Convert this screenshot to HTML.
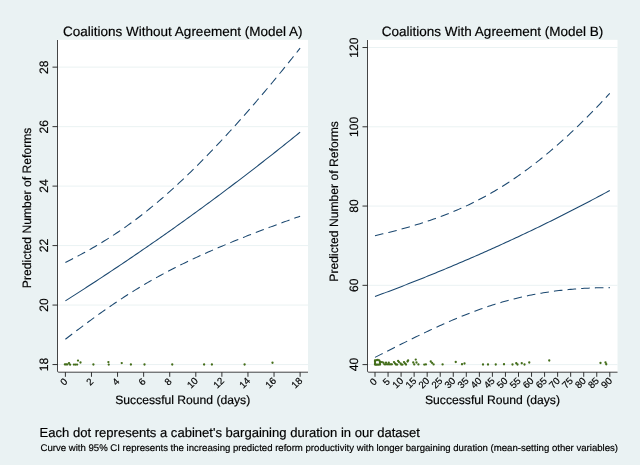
<!DOCTYPE html>
<html><head><meta charset="utf-8"><title>Predicted Number of Reforms</title>
<style>
html,body{margin:0;padding:0;background:#eaf2f3;}
body{width:640px;height:465px;overflow:hidden;}
svg{display:block;will-change:transform;font-family:"Liberation Sans",sans-serif;}
text{fill:#000;stroke:#000;stroke-width:0.18px;text-rendering:geometricPrecision;}
</style></head><body>
<svg width="640" height="465" viewBox="0 0 640 465">
<rect x="0" y="0" width="640" height="465" fill="#eaf2f3"/>
<rect x="57.5" y="39.85" width="250.5" height="332.15" fill="#fff"/>
<line x1="57.5" x2="308.0" y1="364.55" y2="364.55" stroke="#e8f0f2" stroke-width="0.9"/>
<line x1="57.5" x2="308.0" y1="305.07" y2="305.07" stroke="#e8f0f2" stroke-width="0.9"/>
<line x1="57.5" x2="308.0" y1="245.59" y2="245.59" stroke="#e8f0f2" stroke-width="0.9"/>
<line x1="57.5" x2="308.0" y1="186.11" y2="186.11" stroke="#e8f0f2" stroke-width="0.9"/>
<line x1="57.5" x2="308.0" y1="126.63" y2="126.63" stroke="#e8f0f2" stroke-width="0.9"/>
<line x1="57.5" x2="308.0" y1="67.15" y2="67.15" stroke="#e8f0f2" stroke-width="0.9"/>
<path d="M65.40,300.83 L67.36,299.60 L69.31,298.35 L71.27,297.11 L73.22,295.86 L75.18,294.61 L77.14,293.36 L79.09,292.10 L81.05,290.84 L83.00,289.58 L84.96,288.32 L86.92,287.06 L88.87,285.79 L90.83,284.52 L92.78,283.24 L94.74,281.97 L96.70,280.69 L98.65,279.41 L100.61,278.12 L102.56,276.84 L104.52,275.55 L106.48,274.25 L108.43,272.96 L110.39,271.66 L112.34,270.36 L114.30,269.06 L116.26,267.75 L118.21,266.45 L120.17,265.13 L122.12,263.82 L124.08,262.50 L126.04,261.19 L127.99,259.86 L129.95,258.54 L131.90,257.21 L133.86,255.88 L135.82,254.55 L137.77,253.21 L139.73,251.88 L141.68,250.53 L143.64,249.19 L145.60,247.84 L147.55,246.49 L149.51,245.14 L151.46,243.79 L153.42,242.43 L155.38,241.07 L157.33,239.71 L159.29,238.34 L161.24,236.97 L163.20,235.60 L165.16,234.22 L167.11,232.85 L169.07,231.47 L171.02,230.08 L172.98,228.70 L174.94,227.31 L176.89,225.92 L178.85,224.52 L180.80,223.12 L182.76,221.72 L184.72,220.32 L186.67,218.91 L188.63,217.50 L190.58,216.09 L192.54,214.68 L194.50,213.26 L196.45,211.84 L198.41,210.41 L200.36,208.99 L202.32,207.56 L204.28,206.12 L206.23,204.69 L208.19,203.25 L210.14,201.81 L212.10,200.36 L214.06,198.92 L216.01,197.46 L217.97,196.01 L219.92,194.55 L221.88,193.09 L223.84,191.63 L225.79,190.17 L227.75,188.70 L229.70,187.23 L231.66,185.75 L233.62,184.27 L235.57,182.79 L237.53,181.31 L239.48,179.82 L241.44,178.33 L243.40,176.84 L245.35,175.34 L247.31,173.84 L249.26,172.34 L251.22,170.83 L253.18,169.32 L255.13,167.81 L257.09,166.30 L259.04,164.78 L261.00,163.26 L262.96,161.73 L264.91,160.21 L266.87,158.68 L268.82,157.14 L270.78,155.60 L272.74,154.06 L274.69,152.52 L276.65,150.97 L278.60,149.42 L280.56,147.87 L282.52,146.32 L284.47,144.76 L286.43,143.19 L288.38,141.63 L290.34,140.06 L292.30,138.49 L294.25,136.91 L296.21,135.33 L298.16,133.75 L300.12,132.16" fill="none" stroke="#1a476f" stroke-width="1.05"/>
<path d="M65.40,262.46 L67.36,261.48 L69.31,260.49 L71.27,259.49 L73.22,258.49 L75.18,257.47 L77.14,256.44 L79.09,255.41 L81.05,254.36 L83.00,253.30 L84.96,252.22 L86.92,251.14 L88.87,250.05 L90.83,248.94 L92.78,247.82 L94.74,246.68 L96.70,245.54 L98.65,244.38 L100.61,243.20 L102.56,242.01 L104.52,240.81 L106.48,239.59 L108.43,238.36 L110.39,237.11 L112.34,235.85 L114.30,234.57 L116.26,233.28 L118.21,231.97 L120.17,230.65 L122.12,229.31 L124.08,227.95 L126.04,226.57 L127.99,225.18 L129.95,223.78 L131.90,222.35 L133.86,220.91 L135.82,219.46 L137.77,217.98 L139.73,216.49 L141.68,214.98 L143.64,213.46 L145.60,211.92 L147.55,210.36 L149.51,208.78 L151.46,207.19 L153.42,205.58 L155.38,203.96 L157.33,202.32 L159.29,200.66 L161.24,198.99 L163.20,197.30 L165.16,195.60 L167.11,193.87 L169.07,192.14 L171.02,190.39 L172.98,188.62 L174.94,186.84 L176.89,185.04 L178.85,183.23 L180.80,181.40 L182.76,179.56 L184.72,177.71 L186.67,175.84 L188.63,173.96 L190.58,172.06 L192.54,170.15 L194.50,168.23 L196.45,166.29 L198.41,164.35 L200.36,162.38 L202.32,160.41 L204.28,158.42 L206.23,156.42 L208.19,154.41 L210.14,152.39 L212.10,150.35 L214.06,148.31 L216.01,146.25 L217.97,144.18 L219.92,142.10 L221.88,140.00 L223.84,137.90 L225.79,135.78 L227.75,133.66 L229.70,131.52 L231.66,129.37 L233.62,127.22 L235.57,125.05 L237.53,122.87 L239.48,120.68 L241.44,118.48 L243.40,116.27 L245.35,114.05 L247.31,111.82 L249.26,109.59 L251.22,107.34 L253.18,105.08 L255.13,102.81 L257.09,100.53 L259.04,98.25 L261.00,95.95 L262.96,93.64 L264.91,91.33 L266.87,89.00 L268.82,86.67 L270.78,84.33 L272.74,81.98 L274.69,79.61 L276.65,77.24 L278.60,74.87 L280.56,72.48 L282.52,70.08 L284.47,67.68 L286.43,65.26 L288.38,62.84 L290.34,60.41 L292.30,57.97 L294.25,55.52 L296.21,53.06 L298.16,50.59 L300.12,48.12" fill="none" stroke="#1a476f" stroke-width="1.05" stroke-dasharray="8.6 5.1"/>
<path d="M65.40,339.21 L67.36,337.71 L69.31,336.21 L71.27,334.72 L73.22,333.23 L75.18,331.75 L77.14,330.27 L79.09,328.80 L81.05,327.33 L83.00,325.87 L84.96,324.42 L86.92,322.97 L88.87,321.53 L90.83,320.10 L92.78,318.67 L94.74,317.25 L96.70,315.84 L98.65,314.44 L100.61,313.04 L102.56,311.66 L104.52,310.28 L106.48,308.92 L108.43,307.56 L110.39,306.21 L112.34,304.87 L114.30,303.54 L116.26,302.23 L118.21,300.92 L120.17,299.62 L122.12,298.34 L124.08,297.06 L126.04,295.80 L127.99,294.54 L129.95,293.30 L131.90,292.07 L133.86,290.85 L135.82,289.64 L137.77,288.45 L139.73,287.26 L141.68,286.09 L143.64,284.92 L145.60,283.77 L147.55,282.63 L149.51,281.50 L151.46,280.38 L153.42,279.27 L155.38,278.18 L157.33,277.09 L159.29,276.02 L161.24,274.95 L163.20,273.90 L165.16,272.85 L167.11,271.82 L169.07,270.79 L171.02,269.78 L172.98,268.77 L174.94,267.78 L176.89,266.79 L178.85,265.81 L180.80,264.84 L182.76,263.88 L184.72,262.93 L186.67,261.98 L188.63,261.05 L190.58,260.12 L192.54,259.20 L194.50,258.29 L196.45,257.38 L198.41,256.48 L200.36,255.59 L202.32,254.70 L204.28,253.82 L206.23,252.95 L208.19,252.09 L210.14,251.23 L212.10,250.37 L214.06,249.52 L216.01,248.68 L217.97,247.84 L219.92,247.01 L221.88,246.19 L223.84,245.36 L225.79,244.55 L227.75,243.74 L229.70,242.93 L231.66,242.13 L233.62,241.33 L235.57,240.54 L237.53,239.75 L239.48,238.96 L241.44,238.18 L243.40,237.40 L245.35,236.63 L247.31,235.86 L249.26,235.09 L251.22,234.33 L253.18,233.57 L255.13,232.82 L257.09,232.06 L259.04,231.31 L261.00,230.57 L262.96,229.82 L264.91,229.08 L266.87,228.35 L268.82,227.61 L270.78,226.88 L272.74,226.15 L274.69,225.43 L276.65,224.70 L278.60,223.98 L280.56,223.27 L282.52,222.55 L284.47,221.84 L286.43,221.13 L288.38,220.42 L290.34,219.71 L292.30,219.01 L294.25,218.30 L296.21,217.60 L298.16,216.91 L300.12,216.21" fill="none" stroke="#1a476f" stroke-width="1.05" stroke-dasharray="8.6 5.1"/>
<circle cx="64.9" cy="364.4" r="1.15" fill="#436d1a"/>
<circle cx="66.1" cy="364.4" r="1.15" fill="#436d1a"/>
<circle cx="67.4" cy="364.4" r="1.15" fill="#436d1a"/>
<circle cx="69" cy="363.1" r="1.15" fill="#436d1a"/>
<circle cx="70.1" cy="364.7" r="1.15" fill="#436d1a"/>
<circle cx="73.9" cy="364.6" r="1.15" fill="#436d1a"/>
<circle cx="75.5" cy="364.6" r="1.15" fill="#436d1a"/>
<circle cx="77.1" cy="364.6" r="1.15" fill="#436d1a"/>
<circle cx="78" cy="360.6" r="1.15" fill="#436d1a"/>
<circle cx="80.5" cy="362.5" r="1.15" fill="#436d1a"/>
<circle cx="93.4" cy="364.5" r="1.15" fill="#436d1a"/>
<circle cx="108.4" cy="362.1" r="1.15" fill="#436d1a"/>
<circle cx="108.75" cy="364.6" r="1.15" fill="#436d1a"/>
<circle cx="121.75" cy="363.1" r="1.15" fill="#436d1a"/>
<circle cx="130.9" cy="364.5" r="1.15" fill="#436d1a"/>
<circle cx="144.5" cy="364.5" r="1.15" fill="#436d1a"/>
<circle cx="172.25" cy="364.5" r="1.15" fill="#436d1a"/>
<circle cx="204.1" cy="364.5" r="1.15" fill="#436d1a"/>
<circle cx="211.9" cy="364.5" r="1.15" fill="#436d1a"/>
<circle cx="244.6" cy="364.5" r="1.15" fill="#436d1a"/>
<circle cx="272.5" cy="362.75" r="1.15" fill="#436d1a"/>
<path d="M57.5,40.0 V371.0 Q57.5,372.2 58.7,372.2 H308.0" fill="none" stroke="#1c1c1c" stroke-width="0.82"/>
<line x1="52.5" x2="57.5" y1="364.55" y2="364.55" stroke="#1c1c1c" stroke-width="0.9"/>
<text transform="translate(47.90,364.55) rotate(-90)" text-anchor="middle" font-size="12.15">18</text>
<line x1="52.5" x2="57.5" y1="305.07" y2="305.07" stroke="#1c1c1c" stroke-width="0.9"/>
<text transform="translate(47.90,305.07) rotate(-90)" text-anchor="middle" font-size="12.15">20</text>
<line x1="52.5" x2="57.5" y1="245.59" y2="245.59" stroke="#1c1c1c" stroke-width="0.9"/>
<text transform="translate(47.90,245.59) rotate(-90)" text-anchor="middle" font-size="12.15">22</text>
<line x1="52.5" x2="57.5" y1="186.11" y2="186.11" stroke="#1c1c1c" stroke-width="0.9"/>
<text transform="translate(47.90,186.11) rotate(-90)" text-anchor="middle" font-size="12.15">24</text>
<line x1="52.5" x2="57.5" y1="126.63" y2="126.63" stroke="#1c1c1c" stroke-width="0.9"/>
<text transform="translate(47.90,126.63) rotate(-90)" text-anchor="middle" font-size="12.15">26</text>
<line x1="52.5" x2="57.5" y1="67.15" y2="67.15" stroke="#1c1c1c" stroke-width="0.9"/>
<text transform="translate(47.90,67.15) rotate(-90)" text-anchor="middle" font-size="12.15">28</text>
<line x1="65.40" x2="65.40" y1="372.2" y2="376.8" stroke="#1c1c1c" stroke-width="0.9"/>
<text transform="translate(63.60,381.60) rotate(-45)" text-anchor="middle" dy="0.36em" font-size="9.72">0</text>
<line x1="91.48" x2="91.48" y1="372.2" y2="376.8" stroke="#1c1c1c" stroke-width="0.9"/>
<text transform="translate(89.68,381.60) rotate(-45)" text-anchor="middle" dy="0.36em" font-size="9.72">2</text>
<line x1="117.56" x2="117.56" y1="372.2" y2="376.8" stroke="#1c1c1c" stroke-width="0.9"/>
<text transform="translate(115.76,381.60) rotate(-45)" text-anchor="middle" dy="0.36em" font-size="9.72">4</text>
<line x1="143.64" x2="143.64" y1="372.2" y2="376.8" stroke="#1c1c1c" stroke-width="0.9"/>
<text transform="translate(141.84,381.60) rotate(-45)" text-anchor="middle" dy="0.36em" font-size="9.72">6</text>
<line x1="169.72" x2="169.72" y1="372.2" y2="376.8" stroke="#1c1c1c" stroke-width="0.9"/>
<text transform="translate(167.92,381.60) rotate(-45)" text-anchor="middle" dy="0.36em" font-size="9.72">8</text>
<line x1="195.80" x2="195.80" y1="372.2" y2="376.8" stroke="#1c1c1c" stroke-width="0.9"/>
<text transform="translate(192.40,382.70) rotate(-45)" text-anchor="middle" dy="0.36em" font-size="9.72">10</text>
<line x1="221.88" x2="221.88" y1="372.2" y2="376.8" stroke="#1c1c1c" stroke-width="0.9"/>
<text transform="translate(218.48,382.70) rotate(-45)" text-anchor="middle" dy="0.36em" font-size="9.72">12</text>
<line x1="247.96" x2="247.96" y1="372.2" y2="376.8" stroke="#1c1c1c" stroke-width="0.9"/>
<text transform="translate(244.56,382.70) rotate(-45)" text-anchor="middle" dy="0.36em" font-size="9.72">14</text>
<line x1="274.04" x2="274.04" y1="372.2" y2="376.8" stroke="#1c1c1c" stroke-width="0.9"/>
<text transform="translate(270.64,382.70) rotate(-45)" text-anchor="middle" dy="0.36em" font-size="9.72">16</text>
<line x1="300.12" x2="300.12" y1="372.2" y2="376.8" stroke="#1c1c1c" stroke-width="0.9"/>
<text transform="translate(296.72,382.70) rotate(-45)" text-anchor="middle" dy="0.36em" font-size="9.72">18</text>
<text x="182.75" y="35.6" text-anchor="middle" font-size="13.5">Coalitions Without Agreement (Model A)</text>
<text x="182.75" y="403.5" text-anchor="middle" font-size="12.15">Successful Round (days)</text>
<text transform="translate(31.1,207.9) rotate(-90)" text-anchor="middle" font-size="12.15">Predicted Number of Reforms</text>
<rect x="367.5" y="39.85" width="250.0" height="332.15" fill="#fff"/>
<line x1="367.5" x2="617.5" y1="364.60" y2="364.60" stroke="#e8f0f2" stroke-width="0.9"/>
<line x1="367.5" x2="617.5" y1="285.33" y2="285.33" stroke="#e8f0f2" stroke-width="0.9"/>
<line x1="367.5" x2="617.5" y1="206.06" y2="206.06" stroke="#e8f0f2" stroke-width="0.9"/>
<line x1="367.5" x2="617.5" y1="126.79" y2="126.79" stroke="#e8f0f2" stroke-width="0.9"/>
<line x1="367.5" x2="617.5" y1="47.52" y2="47.52" stroke="#e8f0f2" stroke-width="0.9"/>
<path d="M375.00,296.53 L376.96,295.80 L378.91,295.07 L380.87,294.34 L382.83,293.61 L384.78,292.87 L386.74,292.13 L388.70,291.39 L390.65,290.65 L392.61,289.91 L394.57,289.16 L396.52,288.41 L398.48,287.66 L400.44,286.90 L402.39,286.14 L404.35,285.38 L406.31,284.62 L408.26,283.86 L410.22,283.09 L412.18,282.32 L414.13,281.55 L416.09,280.78 L418.05,280.00 L420.01,279.22 L421.96,278.44 L423.92,277.65 L425.88,276.87 L427.83,276.08 L429.79,275.29 L431.75,274.49 L433.70,273.70 L435.66,272.90 L437.62,272.09 L439.57,271.29 L441.53,270.48 L443.49,269.67 L445.44,268.86 L447.40,268.05 L449.36,267.23 L451.31,266.41 L453.27,265.59 L455.23,264.76 L457.18,263.93 L459.14,263.10 L461.10,262.27 L463.05,261.43 L465.01,260.59 L466.97,259.75 L468.92,258.91 L470.88,258.06 L472.84,257.21 L474.79,256.36 L476.75,255.50 L478.71,254.65 L480.66,253.79 L482.62,252.92 L484.58,252.06 L486.53,251.19 L488.49,250.32 L490.45,249.44 L492.40,248.57 L494.36,247.69 L496.32,246.80 L498.28,245.92 L500.23,245.03 L502.19,244.14 L504.15,243.25 L506.10,242.35 L508.06,241.45 L510.02,240.55 L511.97,239.64 L513.93,238.73 L515.89,237.82 L517.84,236.91 L519.80,235.99 L521.76,235.07 L523.71,234.15 L525.67,233.22 L527.63,232.29 L529.58,231.36 L531.54,230.42 L533.50,229.49 L535.45,228.55 L537.41,227.60 L539.37,226.66 L541.32,225.71 L543.28,224.75 L545.24,223.80 L547.19,222.84 L549.15,221.88 L551.11,220.91 L553.06,219.94 L555.02,218.97 L556.98,218.00 L558.93,217.02 L560.89,216.04 L562.85,215.05 L564.80,214.07 L566.76,213.08 L568.72,212.08 L570.67,211.09 L572.63,210.09 L574.59,209.08 L576.55,208.08 L578.50,207.07 L580.46,206.06 L582.42,205.04 L584.37,204.02 L586.33,203.00 L588.29,201.97 L590.24,200.94 L592.20,199.91 L594.16,198.88 L596.11,197.84 L598.07,196.79 L600.03,195.75 L601.98,194.70 L603.94,193.65 L605.90,192.59 L607.85,191.53 L609.81,190.47" fill="none" stroke="#1a476f" stroke-width="1.05"/>
<path d="M375.00,235.71 L376.96,235.25 L378.91,234.79 L380.87,234.33 L382.83,233.86 L384.78,233.38 L386.74,232.90 L388.70,232.41 L390.65,231.92 L392.61,231.42 L394.57,230.91 L396.52,230.40 L398.48,229.88 L400.44,229.35 L402.39,228.82 L404.35,228.28 L406.31,227.73 L408.26,227.17 L410.22,226.60 L412.18,226.03 L414.13,225.45 L416.09,224.86 L418.05,224.26 L420.01,223.65 L421.96,223.03 L423.92,222.41 L425.88,221.77 L427.83,221.12 L429.79,220.46 L431.75,219.79 L433.70,219.11 L435.66,218.42 L437.62,217.72 L439.57,217.00 L441.53,216.27 L443.49,215.54 L445.44,214.78 L447.40,214.02 L449.36,213.24 L451.31,212.45 L453.27,211.64 L455.23,210.82 L457.18,209.99 L459.14,209.14 L461.10,208.28 L463.05,207.40 L465.01,206.51 L466.97,205.61 L468.92,204.68 L470.88,203.74 L472.84,202.79 L474.79,201.82 L476.75,200.83 L478.71,199.83 L480.66,198.81 L482.62,197.77 L484.58,196.72 L486.53,195.65 L488.49,194.56 L490.45,193.45 L492.40,192.33 L494.36,191.19 L496.32,190.03 L498.28,188.86 L500.23,187.66 L502.19,186.45 L504.15,185.22 L506.10,183.98 L508.06,182.71 L510.02,181.43 L511.97,180.13 L513.93,178.81 L515.89,177.47 L517.84,176.12 L519.80,174.75 L521.76,173.36 L523.71,171.95 L525.67,170.52 L527.63,169.08 L529.58,167.62 L531.54,166.14 L533.50,164.64 L535.45,163.13 L537.41,161.60 L539.37,160.05 L541.32,158.48 L543.28,156.90 L545.24,155.30 L547.19,153.68 L549.15,152.04 L551.11,150.39 L553.06,148.72 L555.02,147.04 L556.98,145.33 L558.93,143.62 L560.89,141.88 L562.85,140.13 L564.80,138.36 L566.76,136.57 L568.72,134.77 L570.67,132.96 L572.63,131.12 L574.59,129.27 L576.55,127.41 L578.50,125.52 L580.46,123.63 L582.42,121.71 L584.37,119.79 L586.33,117.84 L588.29,115.88 L590.24,113.90 L592.20,111.91 L594.16,109.91 L596.11,107.89 L598.07,105.85 L600.03,103.80 L601.98,101.73 L603.94,99.64 L605.90,97.55 L607.85,95.43 L609.81,93.30" fill="none" stroke="#1a476f" stroke-width="1.05" stroke-dasharray="8.6 5.1"/>
<path d="M375.00,357.35 L376.96,356.36 L378.91,355.37 L380.87,354.38 L382.83,353.39 L384.78,352.40 L386.74,351.42 L388.70,350.43 L390.65,349.45 L392.61,348.46 L394.57,347.48 L396.52,346.50 L398.48,345.52 L400.44,344.55 L402.39,343.58 L404.35,342.60 L406.31,341.64 L408.26,340.67 L410.22,339.71 L412.18,338.75 L414.13,337.79 L416.09,336.84 L418.05,335.89 L420.01,334.95 L421.96,334.01 L423.92,333.08 L425.88,332.15 L427.83,331.22 L429.79,330.30 L431.75,329.39 L433.70,328.48 L435.66,327.58 L437.62,326.68 L439.57,325.79 L441.53,324.91 L443.49,324.04 L445.44,323.17 L447.40,322.31 L449.36,321.46 L451.31,320.61 L453.27,319.77 L455.23,318.95 L457.18,318.13 L459.14,317.32 L461.10,316.52 L463.05,315.72 L465.01,314.94 L466.97,314.17 L468.92,313.41 L470.88,312.65 L472.84,311.91 L474.79,311.18 L476.75,310.46 L478.71,309.75 L480.66,309.05 L482.62,308.36 L484.58,307.68 L486.53,307.02 L488.49,306.36 L490.45,305.72 L492.40,305.09 L494.36,304.47 L496.32,303.86 L498.28,303.27 L500.23,302.68 L502.19,302.11 L504.15,301.55 L506.10,301.00 L508.06,300.47 L510.02,299.94 L511.97,299.43 L513.93,298.93 L515.89,298.44 L517.84,297.96 L519.80,297.50 L521.76,297.05 L523.71,296.61 L525.67,296.18 L527.63,295.76 L529.58,295.35 L531.54,294.96 L533.50,294.58 L535.45,294.20 L537.41,293.84 L539.37,293.49 L541.32,293.16 L543.28,292.83 L545.24,292.51 L547.19,292.21 L549.15,291.91 L551.11,291.63 L553.06,291.36 L555.02,291.09 L556.98,290.84 L558.93,290.60 L560.89,290.37 L562.85,290.15 L564.80,289.94 L566.76,289.73 L568.72,289.54 L570.67,289.36 L572.63,289.19 L574.59,289.02 L576.55,288.87 L578.50,288.73 L580.46,288.59 L582.42,288.47 L584.37,288.35 L586.33,288.24 L588.29,288.15 L590.24,288.06 L592.20,287.98 L594.16,287.90 L596.11,287.84 L598.07,287.79 L600.03,287.74 L601.98,287.70 L603.94,287.67 L605.90,287.65 L607.85,287.64 L609.81,287.64" fill="none" stroke="#1a476f" stroke-width="1.05" stroke-dasharray="8.6 5.1"/>
<circle cx="375" cy="364.6" r="1.15" fill="#436d1a"/>
<circle cx="375" cy="363.2" r="1.15" fill="#436d1a"/>
<circle cx="375" cy="361.8" r="1.15" fill="#436d1a"/>
<circle cx="375" cy="360.5" r="1.15" fill="#436d1a"/>
<circle cx="376.4" cy="360.2" r="1.15" fill="#436d1a"/>
<circle cx="377.8" cy="360.0" r="1.15" fill="#436d1a"/>
<circle cx="379.2" cy="360.4" r="1.15" fill="#436d1a"/>
<circle cx="380" cy="361.6" r="1.15" fill="#436d1a"/>
<circle cx="380" cy="363" r="1.15" fill="#436d1a"/>
<circle cx="380" cy="364.5" r="1.15" fill="#436d1a"/>
<circle cx="378.6" cy="364.7" r="1.15" fill="#436d1a"/>
<circle cx="377.2" cy="364.7" r="1.15" fill="#436d1a"/>
<circle cx="376" cy="364.7" r="1.15" fill="#436d1a"/>
<circle cx="381.9" cy="362.1" r="1.15" fill="#436d1a"/>
<circle cx="383.4" cy="362.75" r="1.15" fill="#436d1a"/>
<circle cx="384.4" cy="364.3" r="1.15" fill="#436d1a"/>
<circle cx="385.6" cy="364.3" r="1.15" fill="#436d1a"/>
<circle cx="386" cy="362.75" r="1.15" fill="#436d1a"/>
<circle cx="387" cy="364.3" r="1.15" fill="#436d1a"/>
<circle cx="388.2" cy="364.3" r="1.15" fill="#436d1a"/>
<circle cx="388.75" cy="362.75" r="1.15" fill="#436d1a"/>
<circle cx="389.6" cy="364.3" r="1.15" fill="#436d1a"/>
<circle cx="390.8" cy="364.3" r="1.15" fill="#436d1a"/>
<circle cx="391.9" cy="364.3" r="1.15" fill="#436d1a"/>
<circle cx="394" cy="362.1" r="1.15" fill="#436d1a"/>
<circle cx="395" cy="363.4" r="1.15" fill="#436d1a"/>
<circle cx="396" cy="364.5" r="1.15" fill="#436d1a"/>
<circle cx="397.2" cy="364.6" r="1.15" fill="#436d1a"/>
<circle cx="398.1" cy="360.9" r="1.15" fill="#436d1a"/>
<circle cx="399" cy="362.1" r="1.15" fill="#436d1a"/>
<circle cx="400.6" cy="363.4" r="1.15" fill="#436d1a"/>
<circle cx="401.25" cy="364.6" r="1.15" fill="#436d1a"/>
<circle cx="402.5" cy="364.6" r="1.15" fill="#436d1a"/>
<circle cx="404" cy="362.1" r="1.15" fill="#436d1a"/>
<circle cx="405" cy="363.4" r="1.15" fill="#436d1a"/>
<circle cx="406" cy="364.5" r="1.15" fill="#436d1a"/>
<circle cx="407.5" cy="361.5" r="1.15" fill="#436d1a"/>
<circle cx="408.1" cy="360.5" r="1.15" fill="#436d1a"/>
<circle cx="413.25" cy="362.5" r="1.15" fill="#436d1a"/>
<circle cx="414.25" cy="364.4" r="1.15" fill="#436d1a"/>
<circle cx="415.75" cy="359.6" r="1.15" fill="#436d1a"/>
<circle cx="416.5" cy="362.5" r="1.15" fill="#436d1a"/>
<circle cx="418.4" cy="364.4" r="1.15" fill="#436d1a"/>
<circle cx="424.25" cy="364.6" r="1.15" fill="#436d1a"/>
<circle cx="425.9" cy="364.4" r="1.15" fill="#436d1a"/>
<circle cx="430.75" cy="361.5" r="1.15" fill="#436d1a"/>
<circle cx="432.1" cy="362.9" r="1.15" fill="#436d1a"/>
<circle cx="433.6" cy="364.4" r="1.15" fill="#436d1a"/>
<circle cx="442.6" cy="364.4" r="1.15" fill="#436d1a"/>
<circle cx="455.75" cy="362" r="1.15" fill="#436d1a"/>
<circle cx="462" cy="364.25" r="1.15" fill="#436d1a"/>
<circle cx="464.5" cy="363.5" r="1.15" fill="#436d1a"/>
<circle cx="483" cy="364.5" r="1.15" fill="#436d1a"/>
<circle cx="488" cy="364.5" r="1.15" fill="#436d1a"/>
<circle cx="495.75" cy="364.5" r="1.15" fill="#436d1a"/>
<circle cx="504" cy="364.25" r="1.15" fill="#436d1a"/>
<circle cx="512.5" cy="364.5" r="1.15" fill="#436d1a"/>
<circle cx="516.25" cy="363.25" r="1.15" fill="#436d1a"/>
<circle cx="517.5" cy="364.5" r="1.15" fill="#436d1a"/>
<circle cx="521.75" cy="363.25" r="1.15" fill="#436d1a"/>
<circle cx="524.5" cy="364.5" r="1.15" fill="#436d1a"/>
<circle cx="529.25" cy="362.5" r="1.15" fill="#436d1a"/>
<circle cx="549.25" cy="360.5" r="1.15" fill="#436d1a"/>
<circle cx="600.5" cy="363" r="1.15" fill="#436d1a"/>
<circle cx="605.5" cy="362.5" r="1.15" fill="#436d1a"/>
<circle cx="606.25" cy="364.25" r="1.15" fill="#436d1a"/>
<path d="M367.5,40.0 V371.0 Q367.5,372.2 368.7,372.2 H617.5" fill="none" stroke="#1c1c1c" stroke-width="0.82"/>
<line x1="362.5" x2="367.5" y1="364.60" y2="364.60" stroke="#1c1c1c" stroke-width="0.9"/>
<text transform="translate(357.90,364.60) rotate(-90)" text-anchor="middle" font-size="12.15">40</text>
<line x1="362.5" x2="367.5" y1="285.33" y2="285.33" stroke="#1c1c1c" stroke-width="0.9"/>
<text transform="translate(357.90,285.33) rotate(-90)" text-anchor="middle" font-size="12.15">60</text>
<line x1="362.5" x2="367.5" y1="206.06" y2="206.06" stroke="#1c1c1c" stroke-width="0.9"/>
<text transform="translate(357.90,206.06) rotate(-90)" text-anchor="middle" font-size="12.15">80</text>
<line x1="362.5" x2="367.5" y1="126.79" y2="126.79" stroke="#1c1c1c" stroke-width="0.9"/>
<text transform="translate(357.90,126.79) rotate(-90)" text-anchor="middle" font-size="12.15">100</text>
<line x1="362.5" x2="367.5" y1="47.52" y2="47.52" stroke="#1c1c1c" stroke-width="0.9"/>
<text transform="translate(357.90,47.52) rotate(-90)" text-anchor="middle" font-size="12.15">120</text>
<line x1="375.00" x2="375.00" y1="372.2" y2="376.8" stroke="#1c1c1c" stroke-width="0.9"/>
<text transform="translate(373.20,381.60) rotate(-45)" text-anchor="middle" dy="0.36em" font-size="9.72">0</text>
<line x1="388.05" x2="388.05" y1="372.2" y2="376.8" stroke="#1c1c1c" stroke-width="0.9"/>
<text transform="translate(386.25,381.60) rotate(-45)" text-anchor="middle" dy="0.36em" font-size="9.72">5</text>
<line x1="401.09" x2="401.09" y1="372.2" y2="376.8" stroke="#1c1c1c" stroke-width="0.9"/>
<text transform="translate(397.69,382.70) rotate(-45)" text-anchor="middle" dy="0.36em" font-size="9.72">10</text>
<line x1="414.13" x2="414.13" y1="372.2" y2="376.8" stroke="#1c1c1c" stroke-width="0.9"/>
<text transform="translate(410.74,382.70) rotate(-45)" text-anchor="middle" dy="0.36em" font-size="9.72">15</text>
<line x1="427.18" x2="427.18" y1="372.2" y2="376.8" stroke="#1c1c1c" stroke-width="0.9"/>
<text transform="translate(423.78,382.70) rotate(-45)" text-anchor="middle" dy="0.36em" font-size="9.72">20</text>
<line x1="440.23" x2="440.23" y1="372.2" y2="376.8" stroke="#1c1c1c" stroke-width="0.9"/>
<text transform="translate(436.83,382.70) rotate(-45)" text-anchor="middle" dy="0.36em" font-size="9.72">25</text>
<line x1="453.27" x2="453.27" y1="372.2" y2="376.8" stroke="#1c1c1c" stroke-width="0.9"/>
<text transform="translate(449.87,382.70) rotate(-45)" text-anchor="middle" dy="0.36em" font-size="9.72">30</text>
<line x1="466.31" x2="466.31" y1="372.2" y2="376.8" stroke="#1c1c1c" stroke-width="0.9"/>
<text transform="translate(462.92,382.70) rotate(-45)" text-anchor="middle" dy="0.36em" font-size="9.72">35</text>
<line x1="479.36" x2="479.36" y1="372.2" y2="376.8" stroke="#1c1c1c" stroke-width="0.9"/>
<text transform="translate(475.96,382.70) rotate(-45)" text-anchor="middle" dy="0.36em" font-size="9.72">40</text>
<line x1="492.40" x2="492.40" y1="372.2" y2="376.8" stroke="#1c1c1c" stroke-width="0.9"/>
<text transform="translate(489.00,382.70) rotate(-45)" text-anchor="middle" dy="0.36em" font-size="9.72">45</text>
<line x1="505.45" x2="505.45" y1="372.2" y2="376.8" stroke="#1c1c1c" stroke-width="0.9"/>
<text transform="translate(502.05,382.70) rotate(-45)" text-anchor="middle" dy="0.36em" font-size="9.72">50</text>
<line x1="518.50" x2="518.50" y1="372.2" y2="376.8" stroke="#1c1c1c" stroke-width="0.9"/>
<text transform="translate(515.10,382.70) rotate(-45)" text-anchor="middle" dy="0.36em" font-size="9.72">55</text>
<line x1="531.54" x2="531.54" y1="372.2" y2="376.8" stroke="#1c1c1c" stroke-width="0.9"/>
<text transform="translate(528.14,382.70) rotate(-45)" text-anchor="middle" dy="0.36em" font-size="9.72">60</text>
<line x1="544.59" x2="544.59" y1="372.2" y2="376.8" stroke="#1c1c1c" stroke-width="0.9"/>
<text transform="translate(541.19,382.70) rotate(-45)" text-anchor="middle" dy="0.36em" font-size="9.72">65</text>
<line x1="557.63" x2="557.63" y1="372.2" y2="376.8" stroke="#1c1c1c" stroke-width="0.9"/>
<text transform="translate(554.23,382.70) rotate(-45)" text-anchor="middle" dy="0.36em" font-size="9.72">70</text>
<line x1="570.67" x2="570.67" y1="372.2" y2="376.8" stroke="#1c1c1c" stroke-width="0.9"/>
<text transform="translate(567.27,382.70) rotate(-45)" text-anchor="middle" dy="0.36em" font-size="9.72">75</text>
<line x1="583.72" x2="583.72" y1="372.2" y2="376.8" stroke="#1c1c1c" stroke-width="0.9"/>
<text transform="translate(580.32,382.70) rotate(-45)" text-anchor="middle" dy="0.36em" font-size="9.72">80</text>
<line x1="596.76" x2="596.76" y1="372.2" y2="376.8" stroke="#1c1c1c" stroke-width="0.9"/>
<text transform="translate(593.37,382.70) rotate(-45)" text-anchor="middle" dy="0.36em" font-size="9.72">85</text>
<line x1="609.81" x2="609.81" y1="372.2" y2="376.8" stroke="#1c1c1c" stroke-width="0.9"/>
<text transform="translate(606.41,382.70) rotate(-45)" text-anchor="middle" dy="0.36em" font-size="9.72">90</text>
<text x="492.5" y="35.6" text-anchor="middle" font-size="13.5">Coalitions With Agreement (Model B)</text>
<text x="492.5" y="403.5" text-anchor="middle" font-size="12.15">Successful Round (days)</text>
<text transform="translate(337.7,201.4) rotate(-90)" text-anchor="middle" font-size="12.15">Predicted Number of Reforms</text>
<text x="39.6" y="437" font-size="13.05">Each dot represents a cabinet's bargaining duration in our dataset</text>
<text x="40.5" y="450.6" font-size="9.6">Curve with 95% CI represents the increasing predicted reform productivity with longer bargaining duration (mean-setting other variables)</text>
</svg>
</body></html>
